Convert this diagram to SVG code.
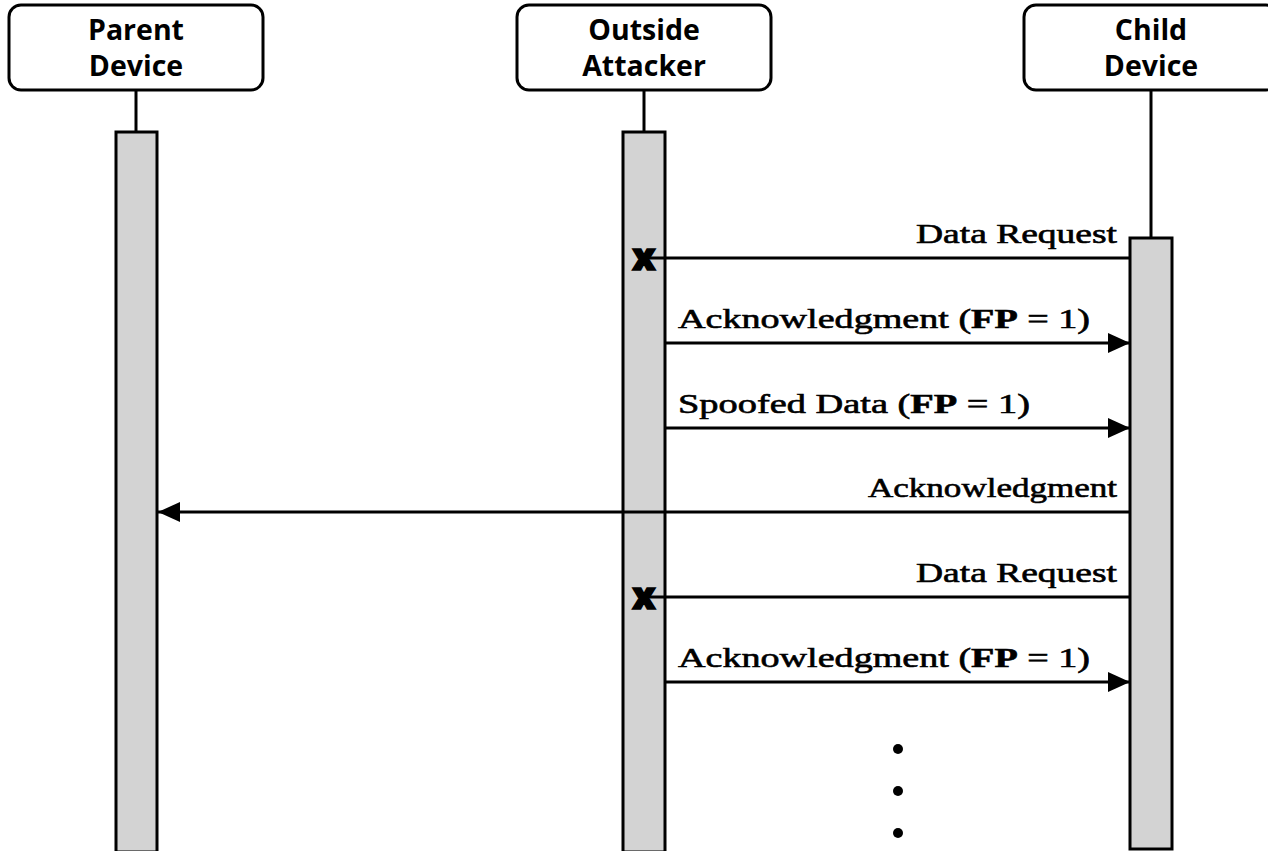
<svg xmlns="http://www.w3.org/2000/svg" width="1268" height="851" viewBox="0 0 1268 851">
<style>
.box{fill:#fff;stroke:#000;stroke-width:3}
.life{stroke:#000;stroke-width:3}
.act{fill:#d3d3d3;stroke:#000;stroke-width:3}
.hdr{font-family:"Open Sans","Noto Sans",sans-serif;font-weight:700;font-size:28.5px;text-anchor:middle;fill:#000}
.msg{stroke:#000;stroke-width:3;fill:none}
.lbl{font-family:"Liberation Serif","DejaVu Serif",serif;font-size:27px;fill:#000;stroke:#000;stroke-width:0.6}
.b{font-weight:700}
.xm{font-family:"Open Sans","Noto Sans",sans-serif;font-weight:800;font-size:37px;text-anchor:middle;fill:#000;stroke:#000;stroke-width:1.5}
</style>
<defs>
<marker id="ah" viewBox="0 0 22 20" refX="22" refY="10" markerWidth="22" markerHeight="20" markerUnits="userSpaceOnUse" orient="auto">
<path d="M0,0 L22,10 L0,20 Z" fill="#000"/>
</marker>
</defs>
<rect width="1268" height="851" fill="#fff"/>
<g id="parent">
<rect class="box" x="9" y="5" width="254" height="85" rx="12"/>
<text class="hdr" x="136" y="40">Parent</text>
<text class="hdr" x="136" y="76">Device</text>
<line class="life" x1="136" y1="90" x2="136" y2="132"/>
<rect class="act" x="116" y="132" width="41" height="720"/>
</g>
<g id="attacker">
<rect class="box" x="517" y="5" width="254" height="85" rx="12"/>
<text class="hdr" x="644" y="40">Outside</text>
<text class="hdr" x="644" y="76">Attacker</text>
<line class="life" x1="644" y1="90" x2="644" y2="132"/>
<rect class="act" x="623" y="132" width="42" height="720"/>
</g>
<g id="child">
<rect class="box" x="1024" y="5" width="254" height="85" rx="12"/>
<text class="hdr" x="1151" y="40">Child</text>
<text class="hdr" x="1151" y="76">Device</text>
<line class="life" x1="1151" y1="90" x2="1151" y2="238"/>
<rect class="act" x="1130" y="238" width="42" height="611"/>
</g>
<g id="connectors">
<line class="msg" x1="1130" y1="258" x2="645" y2="258"/>
<text class="xm" x="644" y="270">x</text>
<text class="lbl" x="1117" y="243" text-anchor="end" textLength="201" lengthAdjust="spacingAndGlyphs">Data Request</text>

<line class="msg" x1="665" y1="343" x2="1130" y2="343" marker-end="url(#ah)"/>
<text class="lbl" x="678" y="328" textLength="412" lengthAdjust="spacingAndGlyphs">Acknowledgment (<tspan class="b">FP</tspan> = 1)</text>

<line class="msg" x1="665" y1="428" x2="1130" y2="428" marker-end="url(#ah)"/>
<text class="lbl" x="678" y="413" textLength="352" lengthAdjust="spacingAndGlyphs">Spoofed Data (<tspan class="b">FP</tspan> = 1)</text>

<line class="msg" x1="1130" y1="512" x2="158" y2="512" marker-end="url(#ah)"/>
<text class="lbl" x="1117" y="497" text-anchor="end" textLength="249" lengthAdjust="spacingAndGlyphs">Acknowledgment</text>

<line class="msg" x1="1130" y1="597" x2="645" y2="597"/>
<text class="xm" x="644" y="609">x</text>
<text class="lbl" x="1117" y="582" text-anchor="end" textLength="201" lengthAdjust="spacingAndGlyphs">Data Request</text>

<line class="msg" x1="665" y1="682" x2="1130" y2="682" marker-end="url(#ah)"/>
<text class="lbl" x="678" y="667" textLength="412" lengthAdjust="spacingAndGlyphs">Acknowledgment (<tspan class="b">FP</tspan> = 1)</text>

<circle cx="898" cy="749" r="5"/>
<circle cx="898" cy="791" r="5"/>
<circle cx="898" cy="833" r="5"/>
</g>
</svg>
